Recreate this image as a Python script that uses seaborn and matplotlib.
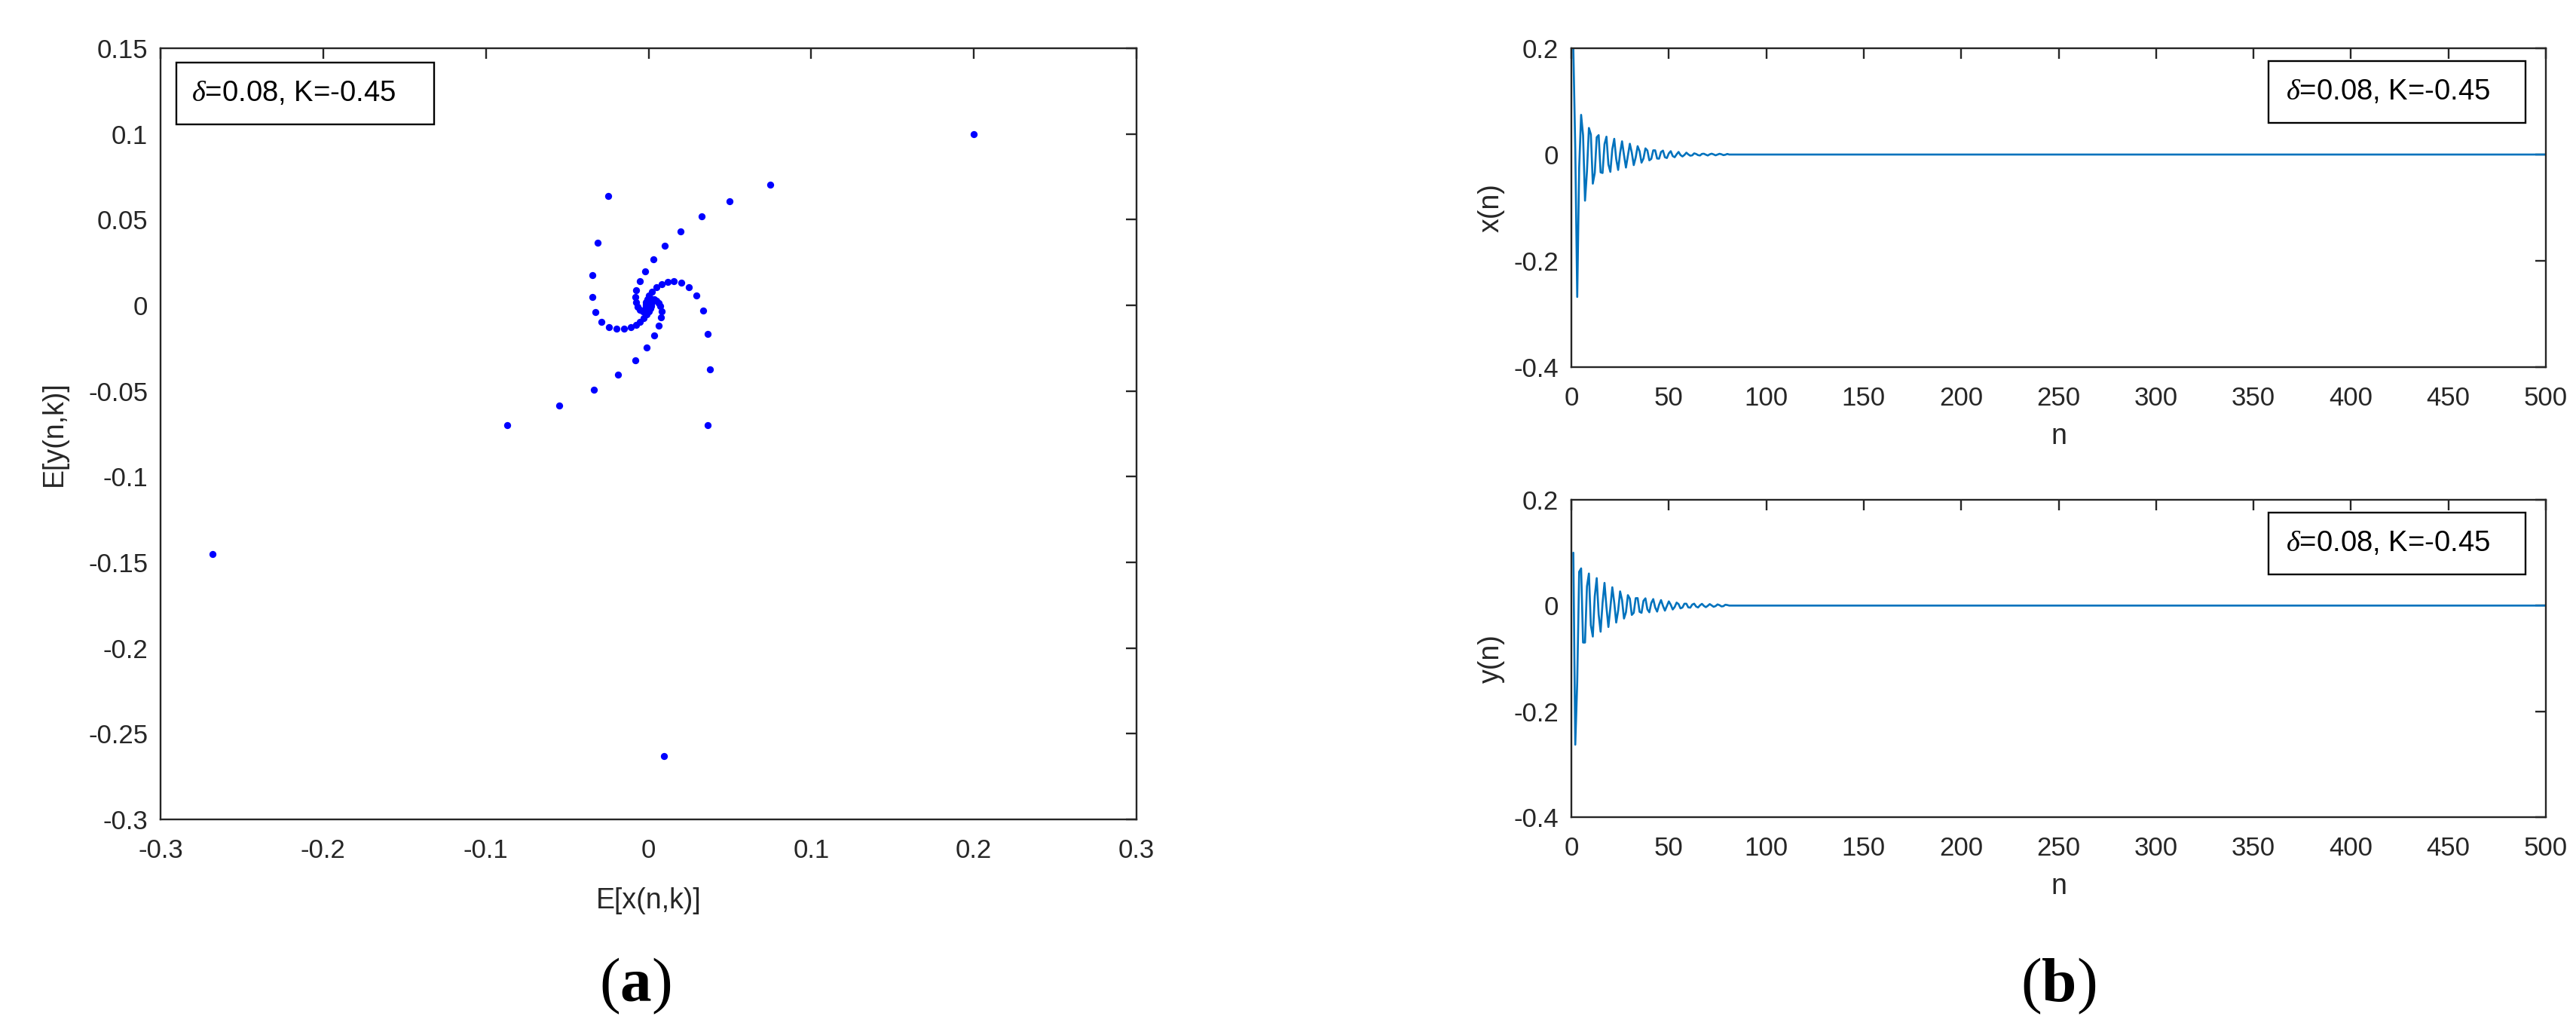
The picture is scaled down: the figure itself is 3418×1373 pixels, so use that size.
import matplotlib
matplotlib.use("Agg")
import numpy as np
import pandas as pd
import seaborn as sns
import matplotlib.pyplot as plt
from matplotlib.patches import Rectangle
from matplotlib.ticker import FuncFormatter

# trajectory, n = 1 .. 80 (four points per row)
x_head = [
    0.2000, 0.0097, -0.2680, -0.0248,
    0.0747, 0.0362, -0.0868, -0.0315,
    0.0500, 0.0378, -0.0548, -0.0347,
    0.0325, 0.0365, -0.0335, -0.0347,
    0.0195, 0.0336, -0.0186, -0.0326,
    0.0101, 0.0296, -0.0083, -0.0290,
    0.0028, 0.0249, -0.0010, -0.0245,
    -0.0021, 0.0203, 0.0036, -0.0199,
    -0.0055, 0.0157, 0.0062, -0.0152,
    -0.0075, 0.0116, 0.0076, -0.0109,
    -0.0082, 0.0079, 0.0079, -0.0075,
    -0.0078, 0.0048, 0.0074, -0.0051,
    -0.0066, 0.0022, 0.0063, -0.0028,
    -0.0051, 0.0004, 0.0049, -0.0010,
    -0.0036, -0.0008, 0.0035, 0.0003,
    -0.0022, -0.0015, 0.0022, 0.0011,
    -0.0011, -0.0018, 0.0012, 0.0015,
    -0.0003, -0.0018, 0.0004, 0.0016,
    0.0002, -0.0015, -0.0001, 0.0014,
    0.0005, -0.0011, -0.0004, 0.0011,
]
y_head = [
    0.1000, -0.2630, -0.1450, 0.0639,
    0.0703, -0.0699, -0.0699, 0.0363,
    0.0606, -0.0373, -0.0586, 0.0176,
    0.0519, -0.0166, -0.0494, 0.0047,
    0.0429, -0.0030, -0.0405, -0.0040,
    0.0346, 0.0056, -0.0321, -0.0096,
    0.0268, 0.0106, -0.0245, -0.0127,
    0.0197, 0.0131, -0.0177, -0.0137,
    0.0140, 0.0141, -0.0118, -0.0137,
    0.0090, 0.0137, -0.0071, -0.0127,
    0.0050, 0.0123, -0.0035, -0.0114,
    0.0016, 0.0104, -0.0006, -0.0096,
    -0.0010, 0.0079, 0.0015, -0.0074,
    -0.0027, 0.0056, 0.0028, -0.0053,
    -0.0036, 0.0035, 0.0035, -0.0034,
    -0.0039, 0.0018, 0.0036, -0.0018,
    -0.0036, 0.0005, 0.0033, -0.0006,
    -0.0030, -0.0004, 0.0028, 0.0003,
    -0.0023, -0.0009, 0.0022, 0.0008,
    -0.0016, -0.0011, 0.0016, 0.0010,
]
n_total = 500
# flat at zero for the rest of the run
x_vals = x_head + [0.0] * (n_total - len(x_head))
y_vals = y_head + [0.0] * (n_total - len(y_head))
n_vals = list(range(1, n_total + 1))

label_text = r"$\delta$=0.08, K=-0.45"

df = pd.DataFrame({"n": n_vals, "x": x_vals, "y": y_vals})

sns.set_theme(style="white")
plt.rcParams["font.family"] = ["Liberation Sans", "DejaVu Sans"]
plt.rcParams["mathtext.fontset"] = "custom"
plt.rcParams["mathtext.it"] = "Liberation Serif:italic"
plt.rcParams["mathtext.rm"] = "Liberation Sans"
plt.rcParams["mathtext.bf"] = "Liberation Serif:bold"

axc = "#262626"
W, H = 3418, 1373
fig = plt.figure(figsize=(W / 100, H / 100), dpi=100)


def box_axes(px0, py0, px1, py1):
    return fig.add_axes([px0 / W, 1 - py1 / H, (px1 - px0) / W, (py1 - py0) / H])


def fmt(v, p):
    return "%g" % (round(v, 4) + 0.0)


def style(ax):
    for s in ax.spines.values():
        s.set_color(axc)
        s.set_linewidth(1.7)
    ax.tick_params(direction="in", length=10, width=1.7, colors=axc,
                   top=True, right=True, labelsize=25)
    ax.tick_params(axis="x", pad=18)
    ax.tick_params(axis="y", pad=12)
    ax.xaxis.set_major_formatter(FuncFormatter(fmt))
    ax.yaxis.set_major_formatter(FuncFormatter(fmt))


def legend_box(ax, x0, y0, x1, y1, tx):
    ax.add_patch(Rectangle((x0, y0), x1 - x0, y1 - y0, transform=ax.transAxes,
                           facecolor="white", edgecolor="black", lw=1.7, zorder=5))
    ax.text(tx, (y0 + y1) / 2, label_text, transform=ax.transAxes, fontsize=27.5,
            va="center", ha="left", color="black", zorder=6)


# (a) phase plot
ax1 = box_axes(213, 64, 1508, 1087)
sns.scatterplot(data=df, x="x", y="y", ax=ax1, color=(0, 0, 1), s=45,
                linewidth=0, legend=False, zorder=3)
ax1.set_xlim(-0.3, 0.3)
ax1.set_ylim(-0.3, 0.15)
ax1.set_xticks(np.arange(-0.3, 0.31, 0.1))
ax1.set_yticks(np.arange(-0.3, 0.151, 0.05))
style(ax1)
ax1.set_xlabel("E[x(n,k)]", fontsize=27, color=axc, va="center")
ax1.set_ylabel("E[y(n,k)]", fontsize=27, color=axc, va="center")
ax1.xaxis.set_label_coords(0.5, -0.106)
ax1.yaxis.set_label_coords(-0.109, 0.5)
legend_box(ax1, 0.0162, 0.9012, 0.2803, 0.9814, 0.0317)

# (b) time series
blue = "#0072BD"
panels = [(64, 487, "x", "x(n)"), (663, 1084, "y", "y(n)")]
for top, bottom, col, name in panels:
    ax = box_axes(2085, top, 3378, bottom)
    sns.lineplot(data=df, x="n", y=col, ax=ax, color=blue, lw=1.9)
    ax.set_xlim(0, 500)
    ax.set_ylim(-0.4, 0.2)
    ax.set_xticks(np.arange(0, 501, 50))
    ax.set_yticks([-0.4, -0.2, 0, 0.2])
    style(ax)
    ax.set_xlabel("n", fontsize=27, color=axc, va="center")
    ax.set_ylabel(name, fontsize=27, color=axc, va="center")
    ax.xaxis.set_label_coords(0.5, -0.218)
    ax.yaxis.set_label_coords(-0.082, 0.5)
    legend_box(ax, 0.7154, 0.7648, 0.9791, 0.9596, 0.7332)

fig.text(843 / W, 0.047, r"($\mathbf{a}$)", fontsize=60, ha="center", va="center",
         family="Liberation Serif", color="black")
fig.text(2731 / W, 0.047, r"($\mathbf{b}$)", fontsize=60, ha="center", va="center",
         family="Liberation Serif", color="black")

fig.savefig("out.png", dpi=100, facecolor="white")
